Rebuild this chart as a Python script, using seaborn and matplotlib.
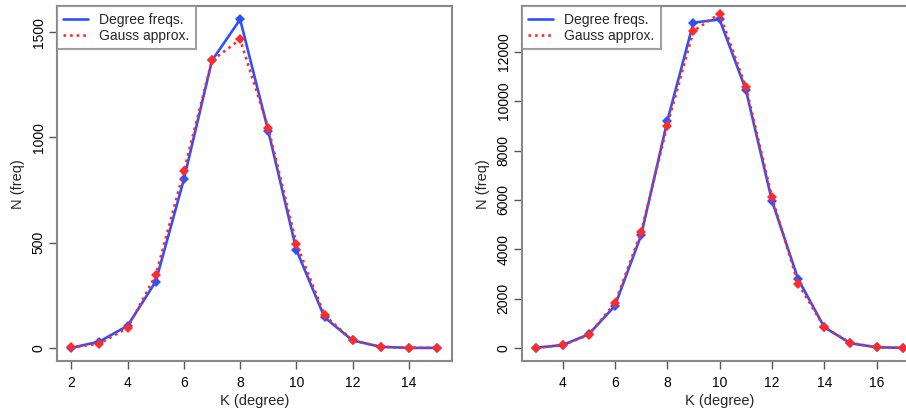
import numpy as np
import pandas as pd
import seaborn as sns
import matplotlib.pyplot as plt

# left panel: degree distribution vs gaussian fit
k_left = [2, 3, 4, 5, 6, 7, 8, 9, 10, 11, 12, 13, 14, 15]
freq_left = [0, 30, 105, 315, 800, 1365, 1560, 1030, 465, 145, 35, 5, 0, 0]
gauss_left = [2, 20, 95, 345, 840, 1365, 1465, 1045, 495, 155, 35, 5, 0, 0]

# right panel
k_right = [3, 4, 5, 6, 7, 8, 9, 10, 11, 12, 13, 14, 15, 16, 17]
freq_right = [10, 120, 555, 1705, 4560, 9185, 13180, 13310, 10470, 5965, 2790, 840, 190, 30, 5]
gauss_right = [10, 110, 530, 1815, 4680, 9010, 12840, 13540, 10580, 6115, 2600, 850, 200, 30, 5]

left_ticks = [2, 4, 6, 8, 10, 12, 14]
right_ticks = [4, 6, 8, 10, 12, 14, 16]
left_yticks = [0, 500, 1000, 1500]
right_yticks = [0, 2000, 4000, 6000, 8000, 10000, 12000]

sns.set_style("ticks")
plt.rcParams['font.family'] = ['Liberation Sans', 'DejaVu Sans']

BLUE = '#2f50ff'
RED = '#ff2a2a'
GRAY = '#888888'
FS = 10

fig = plt.figure(figsize=(9.06, 4.08), dpi=100)
ax1 = fig.add_axes([56.7 / 906, 47 / 408, (451.7 - 56.7) / 906, (361 - 6.3) / 408])
ax2 = fig.add_axes([521.7 / 906, 47 / 408, (917.5 - 521.7) / 906, (361 - 6.3) / 408])


def draw(ax, k, freq, gauss, xticks, yticks):
    df = pd.DataFrame({'k': k, 'freq': freq, 'gauss': gauss})
    sns.lineplot(data=df, x='k', y='freq', ax=ax, color=BLUE, lw=1.9,
                 marker='D', markersize=5, markeredgewidth=0, label='Degree freqs.')
    sns.lineplot(data=df, x='k', y='gauss', ax=ax, color=RED, lw=1.9,
                 linestyle=(0, (1, 1.5)), marker='D', markersize=5.5,
                 markeredgewidth=0, label='Gauss approx.')
    # R-style limits: 4% padding, y range from first series
    xr = max(k) - min(k)
    ax.set_xlim(min(k) - 0.04 * xr, max(k) + 0.04 * xr)
    yr = max(freq) - min(freq)
    ax.set_ylim(min(freq) - 0.04 * yr, max(freq) + 0.04 * yr)
    ax.set_xticks(xticks)
    ax.set_yticks(yticks)
    ax.set_yticklabels([str(v) for v in yticks], rotation=90, va='center')
    ax.tick_params(labelcolor='black', labelsize=FS, length=6, width=1,
                   direction='out', color='#555555')
    ax.tick_params(axis='y', pad=2)
    ax.tick_params(axis='x', pad=5)
    ax.set_xlabel('K (degree)', fontsize=FS + 0.5, labelpad=3)
    ax.set_ylabel('N (freq)', fontsize=FS + 0.5, labelpad=5)
    for s in ax.spines.values():
        s.set_visible(True)
        s.set_color(GRAY)
        s.set_linewidth(1.5)
    leg = ax.legend(loc='upper left', fontsize=FS, frameon=True, fancybox=False,
                    borderaxespad=0, handlelength=1.8, handletextpad=0.8,
                    labelspacing=0.15, borderpad=0.45)
    leg.get_frame().set_edgecolor(GRAY)
    leg.get_frame().set_linewidth(1.5)
    for h in leg.legend_handles:
        h.set_marker('')


draw(ax1, k_left, freq_left, gauss_left, left_ticks, left_yticks)
draw(ax2, k_right, freq_right, gauss_right, right_ticks, right_yticks)

fig.savefig('out.png', dpi=100)
